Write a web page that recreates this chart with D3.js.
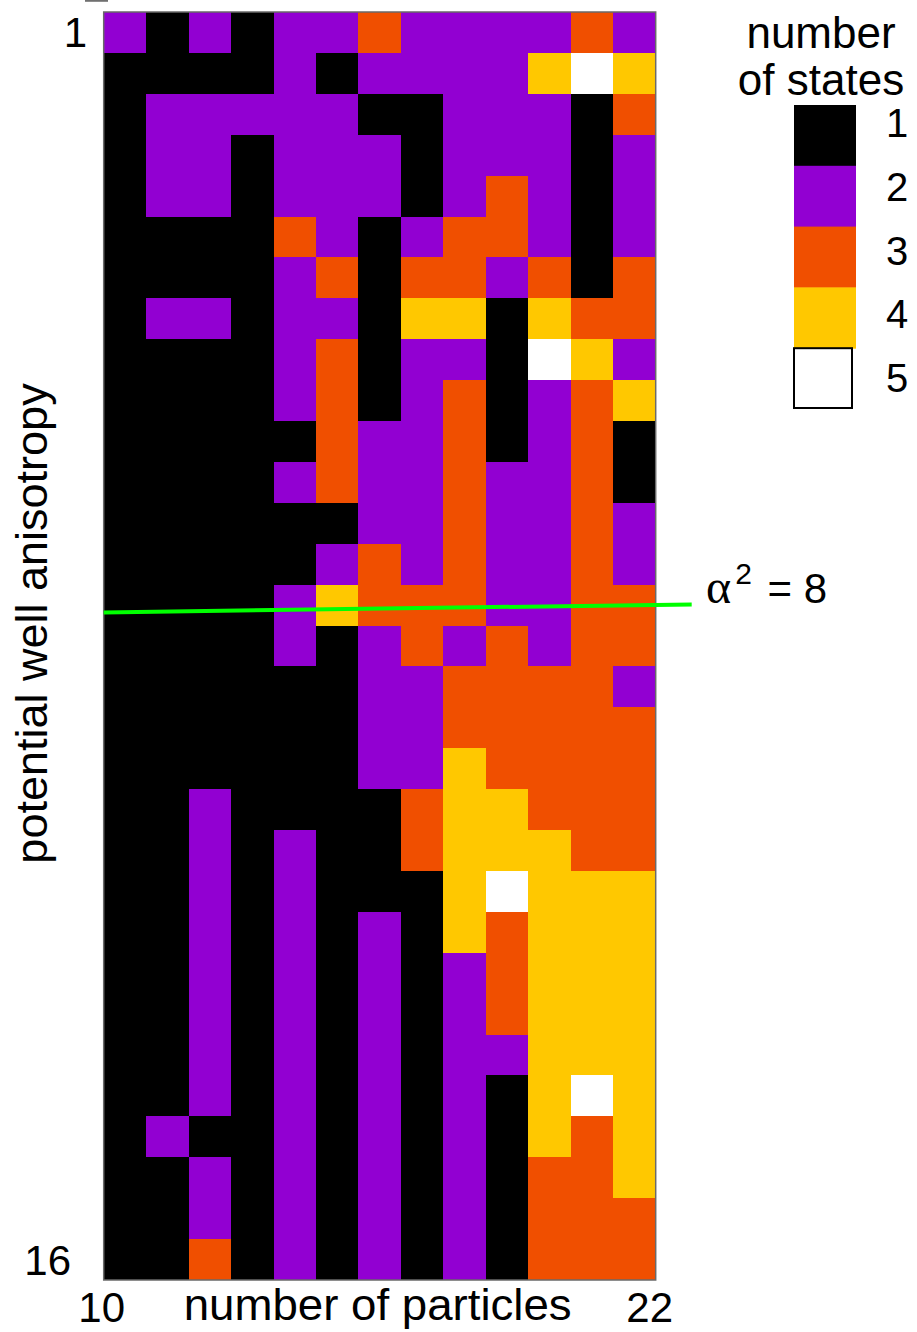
<!DOCTYPE html>
<html>
<head>
<meta charset="utf-8">
<script src="https://cdn.jsdelivr.net/npm/d3@7"></script>
<style>
  html, body { margin: 0; padding: 0; background: #ffffff; }
  svg { display: block; }
  text { font-family: "Liberation Sans", Arial, Helvetica, sans-serif; fill: #000; }
</style>
</head>
<body>
<svg id="chart" width="917" height="1332"></svg>
<script>
// Number of particles (columns) and potential-well anisotropy alpha^2 (rows)
const particles = [10, 11, 12, 13, 14, 15, 16, 17, 18, 19, 20, 21, 22];
const anisotropy = [1, 1.5, 2, 2.5, 3, 3.5, 4, 4.5, 5, 5.5, 6, 6.5, 7, 7.5, 8,
                    8.5, 9, 9.5, 10, 10.5, 11, 11.5, 12, 12.5, 13, 13.5, 14, 14.5, 15, 15.5, 16];

// Number of states, one row per anisotropy value, one entry per particle count
const states = [
  [2,1,2,1,2,2,3,2,2,2,2,3,2],
  [1,1,1,1,2,1,2,2,2,2,4,5,4],
  [1,2,2,2,2,2,1,1,2,2,2,1,3],
  [1,2,2,1,2,2,2,1,2,2,2,1,2],
  [1,2,2,1,2,2,2,1,2,3,2,1,2],
  [1,1,1,1,3,2,1,2,3,3,2,1,2],
  [1,1,1,1,2,3,1,3,3,2,3,1,3],
  [1,2,2,1,2,2,1,4,4,1,4,3,3],
  [1,1,1,1,2,3,1,2,2,1,5,4,2],
  [1,1,1,1,2,3,1,2,3,1,2,3,4],
  [1,1,1,1,1,3,2,2,3,1,2,3,1],
  [1,1,1,1,2,3,2,2,3,2,2,3,1],
  [1,1,1,1,1,1,2,2,3,2,2,3,2],
  [1,1,1,1,1,2,3,2,3,2,2,3,2],
  [1,1,1,1,2,4,3,3,3,2,2,3,3],
  [1,1,1,1,2,1,2,3,2,3,2,3,3],
  [1,1,1,1,1,1,2,2,3,3,3,3,2],
  [1,1,1,1,1,1,2,2,3,3,3,3,3],
  [1,1,1,1,1,1,2,2,4,3,3,3,3],
  [1,1,2,1,1,1,1,3,4,4,3,3,3],
  [1,1,2,1,2,1,1,3,4,4,4,3,3],
  [1,1,2,1,2,1,1,1,4,5,4,4,4],
  [1,1,2,1,2,1,2,1,4,3,4,4,4],
  [1,1,2,1,2,1,2,1,2,3,4,4,4],
  [1,1,2,1,2,1,2,1,2,3,4,4,4],
  [1,1,2,1,2,1,2,1,2,2,4,4,4],
  [1,1,2,1,2,1,2,1,2,1,4,5,4],
  [1,2,1,1,2,1,2,1,2,1,4,3,4],
  [1,1,2,1,2,1,2,1,2,1,3,3,4],
  [1,1,2,1,2,1,2,1,2,1,3,3,3],
  [1,1,3,1,2,1,2,1,2,1,3,3,3]
];

const stateLevels = [1, 2, 3, 4, 5];
const stateColors = ["#000000", "#9200d2", "#f04f00", "#ffc800", "#ffffff"];

const xTickValues = [10, 22];
const yTickValues = [1, 16];
const markedAnisotropy = 8;

// ---- layout ----
const svg = d3.select("#chart");
const plot = { left: 103.7, right: 655.7, top: 12, bottom: 1280 };

const x = d3.scaleBand().domain(particles).range([plot.left, plot.right]);
const y = d3.scaleBand().domain(anisotropy).range([plot.top, plot.bottom]);
const xEdge = d3.scaleLinear()
  .domain([particles[0], particles[particles.length - 1]])
  .range([plot.left - 2, plot.right - 6]);
const color = d3.scaleOrdinal().domain(stateLevels).range(stateColors);

// flatten the grid into cells, snapping edges to whole pixels so neighbours meet exactly
const cells = [];
states.forEach((row, i) => row.forEach((v, j) => {
  const a = anisotropy[i], n = particles[j];
  const x0 = Math.round(x(n)), x1 = Math.round(x(n) + x.bandwidth());
  const y0 = Math.round(y(a)), y1 = Math.round(y(a) + y.bandwidth());
  cells.push({ a, n, v, x0, x1, y0, y1 });
}));

const grid = svg.append("g").attr("class", "grid").attr("shape-rendering", "crispEdges");
grid.selectAll("rect")
  .data(cells)
  .join("rect")
  .attr("x", d => d.x0)
  .attr("y", d => d.y0)
  .attr("width", d => d.x1 - d.x0)
  .attr("height", d => d.y1 - d.y0)
  .attr("fill", d => color(d.v));

// frame
svg.append("rect")
  .attr("x", plot.left)
  .attr("y", plot.top)
  .attr("width", plot.right - plot.left)
  .attr("height", plot.bottom - plot.top)
  .attr("fill", "none")
  .attr("stroke", "#6a6a6a")
  .attr("stroke-width", 1.5);

// small stroke at the upper left
svg.append("line")
  .attr("x1", 85).attr("x2", 108).attr("y1", 0.8).attr("y2", 0.8)
  .attr("stroke", "#707070").attr("stroke-width", 2);

// y tick labels
svg.append("g").selectAll("text")
  .data(yTickValues)
  .join("text")
  .attr("x", d => d === 1 ? 87 : 71)
  .attr("y", d => y(d) + y.bandwidth() / 2 + 15)
  .attr("text-anchor", "end")
  .attr("font-size", 42)
  .text(d => d);

// x tick labels
svg.append("g").selectAll("text")
  .data(xTickValues)
  .join("text")
  .attr("x", d => xEdge(d))
  .attr("y", 1322)
  .attr("text-anchor", "middle")
  .attr("font-size", 42)
  .text(d => d);

// axis titles
svg.append("text")
  .attr("x", (plot.left + plot.right) / 2 - 2)
  .attr("y", 1320)
  .attr("text-anchor", "middle")
  .attr("font-size", 44)
  .attr("textLength", 388)
  .attr("lengthAdjust", "spacingAndGlyphs")
  .text("number of particles");

svg.append("text")
  .attr("transform", `translate(47, ${(plot.top + plot.bottom) / 2 - 22.5}) rotate(-90)`)
  .attr("text-anchor", "middle")
  .attr("font-size", 45)
  .text("potential well anisotropy");

// marker line at alpha^2 = 8
const yMark = y(markedAnisotropy) + y.bandwidth() / 2;
svg.append("line")
  .attr("x1", plot.left)
  .attr("y1", yMark + 7.3)
  .attr("x2", 691.7)
  .attr("y2", yMark - 0.7)
  .attr("stroke", "#00ff00")
  .attr("stroke-width", 4);

const markLabel = svg.append("text")
  .attr("x", 706)
  .attr("y", yMark - 2)
  .attr("font-size", 42);
markLabel.append("tspan")
  .attr("font-family", "'Liberation Serif', 'DejaVu Serif', serif")
  .attr("font-size", 48)
  .text("α");
markLabel.append("tspan")
  .attr("dy", -19)
  .attr("dx", 4)
  .attr("font-size", 30)
  .text("2");
markLabel.append("tspan")
  .attr("dy", 19)
  .attr("dx", 4)
  .text(" = " + markedAnisotropy);

// legend
const legend = svg.append("g").attr("class", "legend");
const yLegend = d3.scaleBand().domain(stateLevels).range([105, 409]);
const yLegendLabel = d3.scalePoint().domain(stateLevels).range([137, 392]);

legend.append("text")
  .attr("x", 821).attr("y", 48)
  .attr("text-anchor", "middle")
  .attr("font-size", 44)
  .text("number");
legend.append("text")
  .attr("x", 821).attr("y", 95)
  .attr("text-anchor", "middle")
  .attr("font-size", 44)
  .text("of states");

legend.selectAll("rect")
  .data(stateLevels)
  .join("rect")
  .attr("x", 794)
  .attr("y", d => yLegend(d))
  .attr("width", d => d === 5 ? 58 : 62)
  .attr("height", d => d === 5 ? yLegend.bandwidth() - 1 : yLegend.bandwidth() + 0.5)
  .attr("fill", d => color(d))
  .attr("stroke", d => d === 5 ? "#000" : "none")
  .attr("stroke-width", 2);

legend.selectAll("text.lbl")
  .data(stateLevels)
  .join("text")
  .attr("class", "lbl")
  .attr("x", 886)
  .attr("y", d => yLegendLabel(d))
  .attr("font-size", 40)
  .text(d => d);
</script>
</body>
</html>
